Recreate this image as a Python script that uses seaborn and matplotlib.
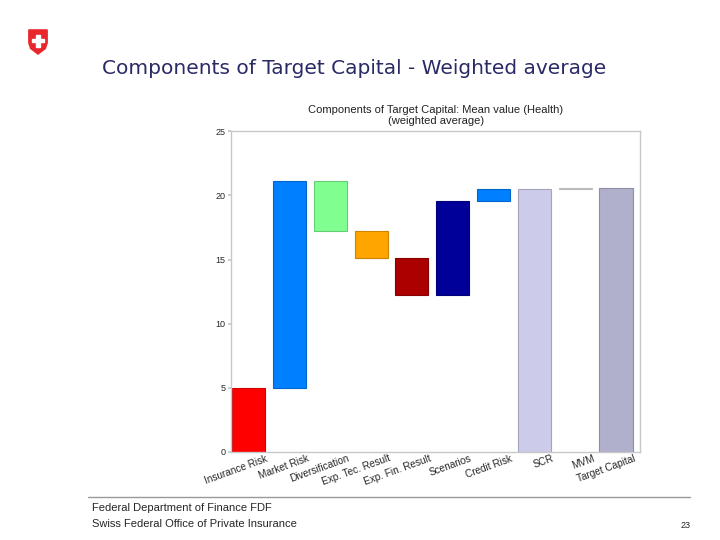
import numpy as np
import pandas as pd
import seaborn as sns
import matplotlib.pyplot as plt
import matplotlib.colors as mcolors
from matplotlib.patches import Polygon, Rectangle
from matplotlib.transforms import ScaledTranslation

# waterfall components
components = ["Insurance Risk", "Market Risk", "Diversification", "Exp. Tec. Result",
              "Exp. Fin. Result", "Scenarios", "Credit Risk", "SCR", "MVM", "Target Capital"]
bar_bottom = [0.0, 5.0, 17.2, 15.1, 12.25, 12.25, 19.6, 0.0, 20.5, 0.0]
bar_top = [5.0, 21.1, 21.1, 17.2, 15.1, 19.6, 20.5, 20.5, 20.6, 20.6]
bar_colors = ["#ff0000", "#0080ff", "#80ff90", "#ffa500", "#aa0000",
              "#000099", "#0080ff", "#ccccea", "#ffffff", "#b0b0cc"]

df = pd.DataFrame({"component": components,
                   "height": np.array(bar_top) - np.array(bar_bottom),
                   "bottom": bar_bottom})

sns.set_theme(style="white")
plt.rcParams["font.family"] = ["Liberation Sans", "DejaVu Sans"]

fig = plt.figure(figsize=(7.2, 5.4), dpi=100)
ax = fig.add_axes([0.321, 0.163, 0.568, 0.594])

sns.barplot(data=df, x="component", y="height", bottom=df["bottom"].values,
            color="#888888", width=0.81, ax=ax, saturation=1)

# colour each bar like the original waterfall
for p, c in zip(ax.patches, bar_colors):
    p.set_facecolor(c)
    edge = np.array(mcolors.to_rgb(c)) * 0.8
    if c == "#ffffff":
        edge = "#bbbbbb"
    p.set_edgecolor(edge)
    p.set_linewidth(0.8)

ax.set_ylim(0, 25)
ax.set_xlim(-0.43, len(components) - 0.41)
ax.set_yticks([0, 5, 10, 15, 20, 25])
ax.set_xlabel("")
ax.set_ylabel("")
for s in ax.spines.values():
    s.set_color("#c8c8c8")
    s.set_linewidth(1.0)
ax.tick_params(axis="y", labelsize=6.5, length=2, color="#c8c8c8", pad=2, left=True)
ax.tick_params(axis="x", length=0, pad=1)
ax.set_xticks(range(len(components)))
ax.set_xticklabels(components, rotation=20, ha="right", rotation_mode="anchor", fontsize=7.2)
for lab in ax.get_xticklabels():
    lab.set_transform(lab.get_transform() + ScaledTranslation(0.17, 0, fig.dpi_scale_trans))

ax.set_title("Components of Target Capital: Mean value (Health)\n(weighted average)",
             fontsize=8, pad=5, color="#222222")

# slide title
fig.text(102 / 720, 1 - 68 / 540, "Components of Target Capital - Weighted average",
         fontsize=14.5, color="#2a2a66", family="DejaVu Sans", va="center")

# Swiss logo
lax = fig.add_axes([27 / 720, 1 - 55 / 540, 22 / 720, 26 / 540])
lax.set_xlim(0, 24)
lax.set_ylim(0, 28)
lax.axis("off")
shield = [(2, 27), (22, 27), (22, 13), (20, 7), (12, 1), (4, 7), (2, 13)]
lax.add_patch(Polygon(shield, closed=True, color="#e8262b"))
lax.add_patch(Rectangle((10, 9), 4, 13, color="white"))
lax.add_patch(Rectangle((5.5, 13.5), 13, 4, color="white"))

# footer
fig.add_artist(plt.Line2D([88 / 720, 690 / 720], [1 - 497 / 540] * 2, color="#999999", lw=1))
fig.text(92 / 720, 1 - 508 / 540, "Federal Department of Finance FDF", fontsize=8, va="center")
fig.text(92 / 720, 1 - 524 / 540, "Swiss Federal Office of Private Insurance", fontsize=8, va="center")
fig.text(686 / 720, 1 - 526 / 540, "23", fontsize=6.5, va="center", ha="center")

fig.savefig("out.png", dpi=100)
